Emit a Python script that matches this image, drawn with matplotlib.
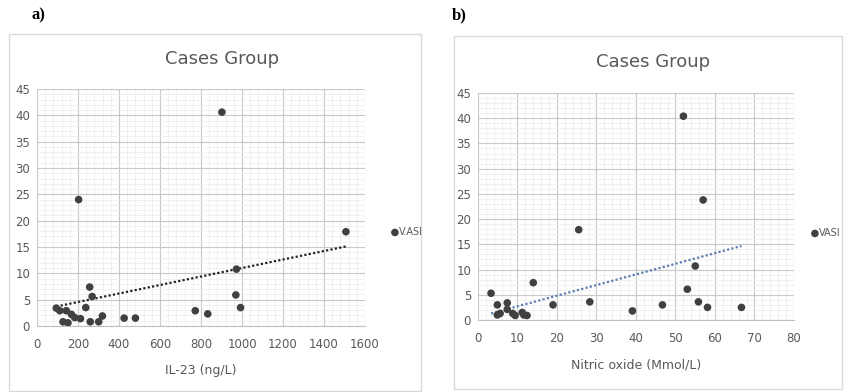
import numpy as np
import matplotlib
matplotlib.use("Agg")
import matplotlib.pyplot as plt
from matplotlib.ticker import MultipleLocator, AutoMinorLocator
from matplotlib.patches import Rectangle

plt.rcParams['font.family'] = ['DejaVu Sans']

# panel a: IL-23 vs VASI
il23 = [94, 111, 127, 143, 151, 168, 184, 203, 212, 238, 257, 260, 269, 301,
        319, 425, 480, 772, 833, 902, 970, 973, 993, 1507]
vasi_a = [3.4, 2.9, 0.8, 2.9, 0.6, 2.2, 1.6, 24.0, 1.4, 3.5, 7.4, 0.8, 5.6, 0.8,
          1.9, 1.5, 1.5, 2.9, 2.3, 40.6, 5.9, 10.8, 3.5, 17.9]
trend_a = [0.00807, 2.94]   # slope, intercept of the linear trend shown

# panel b: nitric oxide vs VASI
no = [3.3, 4.9, 4.9, 5.6, 7.4, 7.4, 8.8, 9.4, 11.2, 11.6, 12.4, 14.0, 19.0, 25.5,
      28.3, 39.1, 46.7, 52.0, 53.0, 55.0, 55.8, 57.0, 58.1, 66.7]
vasi_b = [5.3, 3.0, 1.0, 1.3, 3.4, 2.1, 1.3, 0.9, 1.5, 1.0, 0.9, 7.4, 3.0, 17.9,
          3.6, 1.8, 3.0, 40.4, 6.1, 10.7, 3.6, 23.8, 2.5, 2.5]
trend_b = [0.211, 0.60]

W, H = 845, 392
fig = plt.figure(figsize=(W / 100, H / 100), dpi=100)

grey = '#595959'
dot = '#404040'


def px(x0, y0, x1, y1):
    return [x0 / W, 1 - y1 / H, (x1 - x0) / W, (y1 - y0) / H]


def panel(rect, box, x, y, trend, xmax, xstep, xlabel, legtxt, leg_xy, trend_color,
          title_xy, tag_xy, tag):
    fig.patches.append(Rectangle((box[0], box[1]), box[2], box[3], transform=fig.transFigure,
                                 fill=False, edgecolor='#d9d9d9', linewidth=1))
    ax = fig.add_axes(rect)
    pts = ax.scatter(x, y, s=30, color=dot, zorder=3, edgecolors='none')
    xs = np.array([min(x), max(x)])
    ax.plot(xs, trend[0] * xs + trend[1], linestyle=(0, (1, 1)), color=trend_color,
            linewidth=1.6, zorder=2)
    ax.set_xlim(0, xmax)
    ax.set_ylim(0, 45)
    ax.xaxis.set_major_locator(MultipleLocator(xstep))
    ax.yaxis.set_major_locator(MultipleLocator(5))
    ax.xaxis.set_minor_locator(AutoMinorLocator(5))
    ax.yaxis.set_minor_locator(AutoMinorLocator(5))
    ax.grid(which='major', color='#c8c8c8', linewidth=0.8)
    ax.grid(which='minor', color='#ebebeb', linewidth=0.5)
    ax.set_axisbelow(True)
    for s in ['top', 'right', 'left']:
        ax.spines[s].set_visible(False)
    ax.spines['bottom'].set_color('#c0c0c0')
    ax.tick_params(which='both', length=0, labelsize=8.5, labelcolor=grey)
    ax.tick_params(axis='x', pad=9)
    ax.tick_params(axis='y', pad=5)
    ax.set_xlabel(xlabel, fontsize=9, color=grey, labelpad=9)
    fig.legend([pts], [legtxt], loc='center left',
               bbox_to_anchor=(leg_xy[0] / W, 1 - leg_xy[1] / H),
               frameon=False, fontsize=7, borderpad=0, borderaxespad=0,
               handlelength=0.6, handletextpad=0.15, labelcolor=grey)
    fig.text(title_xy[0] / W, 1 - title_xy[1] / H, 'Cases Group', fontsize=13,
             color=grey, ha='center', va='center')
    fig.text(tag_xy[0] / W, 1 - tag_xy[1] / H, tag, fontsize=12, fontweight='bold',
             family='Liberation Serif', ha='left', va='center')
    return ax


panel(px(37, 89, 365, 326), px(9, 34, 421, 391), il23, vasi_a, trend_a, 1600, 200,
      'IL-23 (ng/L)', 'V.ASI', (392, 232), '#222222', (222, 59), (32, 15), 'a)')
panel(px(478, 93, 794, 320), px(454, 36, 842, 389), no, vasi_b, trend_b, 80, 10,
      'Nitric oxide (Mmol/L)', 'VASI', (812, 233), '#5b7fb0', (653, 62), (452, 15), 'b)')

fig.savefig('out.png', dpi=100)
